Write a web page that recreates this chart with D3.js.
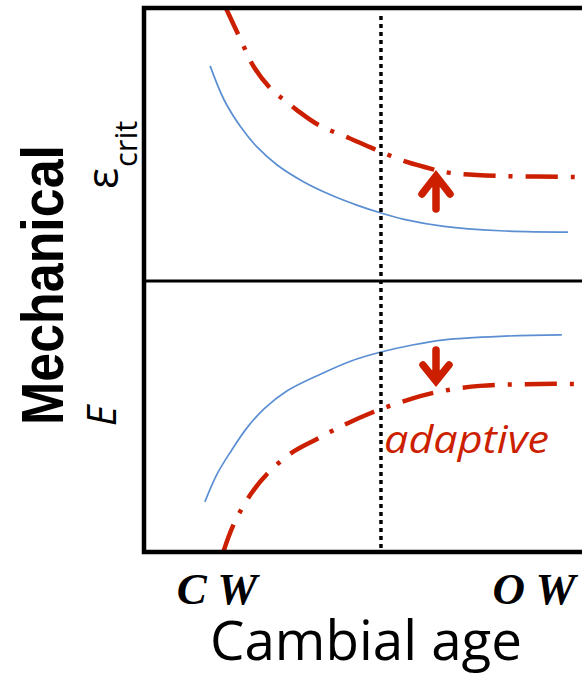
<!DOCTYPE html>
<html><head><meta charset="utf-8">
<script src="https://cdn.jsdelivr.net/npm/d3@7"></script>
<style>body{margin:0;background:#fff}svg{display:block}</style>
</head><body>
<script>
// Cambial age (0 = CW side, 100 = OW side); property levels 0..100 within each panel
const upperBlueX = [15.1, 18.3, 22.1, 25.8, 30.4, 36.5, 42.7, 48.6, 54.1, 59.4, 68.5, 81.3, 96.8];
const upperBlueY = [78.8, 66.3, 56.4, 49.1, 42.5, 36.3, 31.5, 27.8, 24.9, 22.6, 20.0, 18.4, 17.9];
const upperRedX  = [18.4, 22.1, 25.1, 29.2, 32.0, 34.9, 39.9, 46.8, 52.5, 60.0, 65.8, 69.9, 81.3, 100];
const upperRedY  = [101, 88.3, 78.4, 70.0, 66.3, 62.6, 57.1, 52.4, 48.4, 43.6, 41.0, 39.6, 38.5, 38.1];
const lowerBlueX = [13.9, 16.7, 19.9, 23.5, 27.4, 32.6, 40.4, 47.3, 54.1, 61.0, 68.5, 81.3, 95.4];
const lowerBlueY = [18.5, 28.8, 37.3, 45.8, 52.8, 59.4, 65.7, 70.5, 73.8, 76.3, 78.3, 79.6, 80.1];
const lowerRedX  = [17.9, 20.5, 24.4, 28.1, 33.6, 39.5, 45.7, 51.8, 59.4, 66.9, 76.7, 90.4, 100];
const lowerRedY  = [-1, 10.3, 21.4, 28.8, 36.5, 41.7, 46.9, 51.3, 55.7, 59.0, 61.3, 62.0, 62.0];
const dividerAge = 54.1;
const xLabels = ["C W", "O W"];
const texts = {y: "Mechanical", topSym: "ε", topSub: "crit", bottom: "E", x: "Cambial age", note: "adaptive"};

const W = 582, H = 675;
const svg = d3.select("body").append("svg").attr("width", W).attr("height", H);
const L = 144, R = 582, T = 8, M = 281, B = 552;
const x = d3.scaleLinear().domain([0, 100]).range([L, R]);
const yU = d3.scaleLinear().domain([0, 100]).range([M, T]);
const yL = d3.scaleLinear().domain([0, 100]).range([B, M]);
const red = "#cc1f00", blue = "#5b8fd2";

svg.append("clipPath").attr("id", "c").append("rect")
  .attr("x", L).attr("y", T).attr("width", R - L + 10).attr("height", B - T);
const g = svg.append("g").attr("clip-path", "url(#c)");

function curve(xs, ys, sc) {
  return d3.line().x((d, i) => x(xs[i])).y(d => sc(d)).curve(d3.curveCatmullRom.alpha(0.5))(ys);
}
g.append("path").attr("d", curve(upperBlueX, upperBlueY, yU)).attr("fill", "none").attr("stroke", blue).attr("stroke-width", 1.7);
g.append("path").attr("d", curve(lowerBlueX, lowerBlueY, yL)).attr("fill", "none").attr("stroke", blue).attr("stroke-width", 1.7);
const dash = "32,13,4,13";
g.append("path").attr("d", curve(upperRedX, upperRedY, yU)).attr("fill", "none").attr("stroke", red).attr("stroke-width", 4.5).attr("stroke-dasharray", dash);
g.append("path").attr("d", curve(lowerRedX, lowerRedY, yL)).attr("fill", "none").attr("stroke", red).attr("stroke-width", 4.5).attr("stroke-dasharray", dash);

// dotted divider
svg.append("line").attr("x1", x(dividerAge)).attr("x2", x(dividerAge)).attr("y1", T + 8).attr("y2", B)
  .attr("stroke", "#000").attr("stroke-width", 3.5).attr("stroke-dasharray", "4,4");

// frame
svg.append("path").attr("d", `M${R + 5},${T}H${L}V${B}H${R + 5}`).attr("fill", "none").attr("stroke", "#000").attr("stroke-width", 4.5);
svg.append("line").attr("x1", L).attr("x2", R + 5).attr("y1", M).attr("y2", M).attr("stroke", "#000").attr("stroke-width", 3);

// arrows
function arrow(cx, y0, y1, aw, ah) {
  const dir = Math.sign(y1 - y0);
  const p = d3.path();
  p.moveTo(cx, y0); p.lineTo(cx, y1 - dir * 3);
  p.moveTo(cx - aw, y1 - dir * ah); p.lineTo(cx, y1); p.lineTo(cx + aw, y1 - dir * ah);
  svg.append("path").attr("d", p.toString()).attr("fill", "none").attr("stroke", red)
    .attr("stroke-width", 7.5).attr("stroke-linecap", "round").attr("stroke-linejoin", "miter");
}
arrow(436, 209, 176, 14, 18);
arrow(436, 350, 381, 13, 16);

// y labels
svg.append("text").attr("transform", "translate(63,285) rotate(-90)").attr("text-anchor", "middle")
  .attr("textLength", 280).attr("lengthAdjust", "spacingAndGlyphs")
  .style("font-family", "Liberation Sans, Arial").style("font-weight", "bold").style("font-size", "60px").text(texts.y);
const eps = svg.append("text").attr("transform", "translate(118,189) rotate(-90)")
  .style("font-family", "Open Sans, Arial").style("font-size", "44px");
eps.append("tspan").text(texts.topSym);
eps.append("tspan").attr("dy", 19).attr("dx", 1).style("font-size", "31px").text(texts.topSub);
svg.append("text").attr("transform", "translate(116,416) rotate(-90)").attr("text-anchor", "middle")
  .style("font-family", "Open Sans, Arial").style("font-style", "italic").style("font-size", "40px").text(texts.bottom);

// x labels
const serif = "Liberation Serif, Times New Roman";
svg.append("text").attr("x", 217).attr("y", 604).attr("text-anchor", "middle")
  .style("font-family", serif).style("font-weight", "bold").style("font-style", "italic").style("font-size", "45px").text(xLabels[0]);
svg.append("text").attr("x", 534).attr("y", 604).attr("text-anchor", "middle")
  .style("font-family", serif).style("font-weight", "bold").style("font-style", "italic").style("font-size", "45px").text(xLabels[1]);
svg.append("text").attr("x", 366).attr("y", 660).attr("text-anchor", "middle")
  .attr("textLength", 312).attr("lengthAdjust", "spacingAndGlyphs")
  .style("font-family", "Open Sans, Arial").style("font-size", "55px").text(texts.x);
svg.append("text").attr("x", 384).attr("y", 453).attr("fill", red)
  .attr("textLength", 165).attr("lengthAdjust", "spacingAndGlyphs")
  .style("font-family", "Open Sans, Arial").style("font-style", "italic").style("font-size", "38px").text(texts.note);
</script>
</body></html>
